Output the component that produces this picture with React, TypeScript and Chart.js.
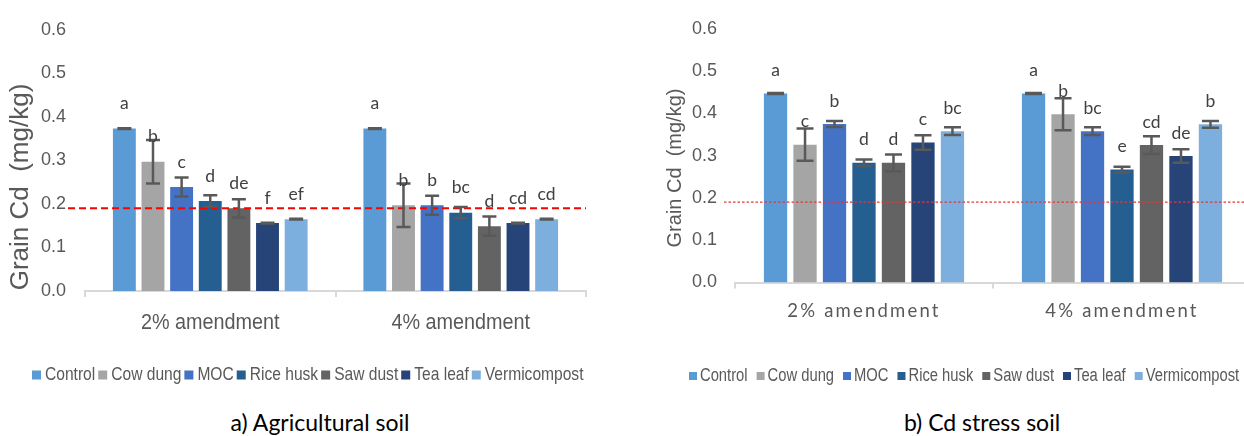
import React, { useEffect, useRef } from "react";
import { Chart, registerables } from "chart.js";

Chart.register(...registerables);

// Categories and treatments
const amendmentLevels = ["2% amendment", "4% amendment"];
const treatments = ["Control", "Cow dung", "MOC", "Rice husk", "Saw dust", "Tea leaf", "Vermicompost"];
const treatmentColors = ["#5B9BD5", "#A5A5A5", "#4472C4", "#255E91", "#636363", "#264478", "#7CAFDD"];

// a) Agricultural soil — grain Cd (mg/kg), error and significance letters
const agri2Mean = [0.373, 0.297, 0.239, 0.207, 0.19, 0.156, 0.165];
const agri2Err = [0.001, 0.05, 0.022, 0.013, 0.021, 0.001, 0.001];
const agri2Letters = ["a", "b", "c", "d", "de", "f", "ef"];
const agri4Mean = [0.373, 0.197, 0.197, 0.18, 0.149, 0.156, 0.165];
const agri4Err = [0.001, 0.05, 0.022, 0.013, 0.022, 0.001, 0.001];
const agri4Letters = ["a", "b", "b", "bc", "d", "cd", "cd"];

// b) Cd stress soil
const stress2Mean = [0.447, 0.326, 0.375, 0.283, 0.283, 0.331, 0.358];
const stress2Err = [0.001, 0.038, 0.007, 0.008, 0.02, 0.017, 0.009];
const stress2Letters = ["a", "c", "b", "d", "d", "c", "bc"];
const stress4Mean = [0.447, 0.398, 0.358, 0.267, 0.325, 0.299, 0.374];
const stress4Err = [0.001, 0.038, 0.009, 0.007, 0.021, 0.016, 0.008];
const stress4Letters = ["a", "b", "bc", "e", "cd", "de", "b"];

// Permissible grain Cd limit and y axis range
const cdLimit = 0.19;
const yMin = 0;
const yMax = 0.6;
const yStep = 0.1;
const yTitleText = "Grain Cd  (mg/kg)";

type PanelStyle = {
  width: number;
  height: number;
  padding: { top: number; right: number; bottom: number; left: number };
  yAxisWidth: number;
  xAxisHeight: number;
  yTickPadding: number;
  barPercentage: number;
  limit: { color: string; width: number; dash: number[]; lead: number };
  err: { color: string; width: number; cap: number };
  letters: { font: string; color: string; gap: number };
  cats: { font: string; color: string; scaleX: number; spacing: number; offset: number };
  yTitle: { font: string; color: string; x: number; y: number };
  legend: { font: string; color: string; scaleX: number; x: number; y: number; box: number; textGap: number; itemGap: number };
};

type PanelData = {
  means: number[][];
  errs: number[][];
  letters: string[][];
};

function drawScaledText(ctx: CanvasRenderingContext2D, text: string, x: number, y: number, sx: number) {
  ctx.save();
  ctx.translate(x, y);
  ctx.scale(sx, 1);
  ctx.fillText(text, 0, 0);
  ctx.restore();
}

function panelPlugin(s: PanelStyle, d: PanelData) {
  return {
    id: "panelDecor",
    afterDraw(chart: any) {
      const ctx: CanvasRenderingContext2D = chart.ctx;
      const area = chart.chartArea;
      const xs = chart.scales.x;
      const ys = chart.scales.y;

      // limit line
      ctx.save();
      ctx.strokeStyle = s.limit.color;
      ctx.lineWidth = s.limit.width;
      ctx.setLineDash(s.limit.dash);
      const ly = ys.getPixelForValue(cdLimit);
      ctx.beginPath();
      ctx.moveTo(area.left - s.limit.lead, ly);
      ctx.lineTo(area.right, ly);
      ctx.stroke();
      ctx.restore();

      // error bars and letters
      chart.data.datasets.forEach((ds: any, i: number) => {
        const meta = chart.getDatasetMeta(i);
        meta.data.forEach((bar: any, j: number) => {
          const v = d.means[j][i];
          const e = d.errs[j][i];
          const yTop = ys.getPixelForValue(v + e);
          const yBot = ys.getPixelForValue(v - e);
          ctx.save();
          ctx.strokeStyle = s.err.color;
          ctx.lineWidth = s.err.width;
          ctx.beginPath();
          ctx.moveTo(bar.x, yTop);
          ctx.lineTo(bar.x, yBot);
          ctx.moveTo(bar.x - s.err.cap / 2, yTop);
          ctx.lineTo(bar.x + s.err.cap / 2, yTop);
          ctx.moveTo(bar.x - s.err.cap / 2, yBot);
          ctx.lineTo(bar.x + s.err.cap / 2, yBot);
          ctx.stroke();
          ctx.restore();

          ctx.save();
          ctx.font = s.letters.font;
          ctx.fillStyle = s.letters.color;
          ctx.textAlign = "center";
          ctx.textBaseline = "middle";
          ctx.fillText(d.letters[j][i], bar.x, ys.getPixelForValue(v) - s.letters.gap);
          ctx.restore();
        });
      });

      // category labels
      ctx.save();
      ctx.font = s.cats.font;
      ctx.fillStyle = s.cats.color;
      ctx.textAlign = "center";
      ctx.textBaseline = "middle";
      (ctx as any).letterSpacing = `${s.cats.spacing}px`;
      chart.data.labels.forEach((lab: string, j: number) => {
        drawScaledText(ctx, lab, xs.getPixelForValue(j), area.bottom + s.cats.offset, s.cats.scaleX);
      });
      (ctx as any).letterSpacing = "0px";
      ctx.restore();

      // y axis title
      ctx.save();
      ctx.font = s.yTitle.font;
      ctx.fillStyle = s.yTitle.color;
      ctx.textAlign = "center";
      ctx.textBaseline = "middle";
      ctx.translate(s.yTitle.x, s.yTitle.y);
      ctx.rotate(-Math.PI / 2);
      ctx.fillText(yTitleText, 0, 0);
      ctx.restore();

      // legend
      ctx.save();
      ctx.font = s.legend.font;
      ctx.textAlign = "left";
      ctx.textBaseline = "middle";
      let x = s.legend.x;
      chart.data.datasets.forEach((ds: any) => {
        ctx.fillStyle = ds.backgroundColor;
        ctx.fillRect(x, s.legend.y - s.legend.box / 2, s.legend.box, s.legend.box);
        x += s.legend.box + s.legend.textGap;
        ctx.fillStyle = s.legend.color;
        drawScaledText(ctx, ds.label, x, s.legend.y, s.legend.scaleX);
        x += ctx.measureText(ds.label).width * s.legend.scaleX + s.legend.itemGap;
      });
      ctx.restore();
    },
  };
}

function Panel({ s, d }: { s: PanelStyle; d: PanelData }) {
  const ref = useRef<HTMLCanvasElement>(null);
  useEffect(() => {
    if (!ref.current) return;
    const datasets = treatments.map((name, i) => ({
      label: name,
      data: d.means.map((row) => row[i]),
      backgroundColor: treatmentColors[i],
      borderWidth: 0,
      categoryPercentage: 0.8,
      barPercentage: s.barPercentage,
    }));
    const chart = new Chart(ref.current, {
      type: "bar",
      data: { labels: amendmentLevels, datasets },
      options: {
        animation: false,
        responsive: false,
        devicePixelRatio: 1,
        layout: { padding: s.padding },
        plugins: {
          legend: { display: false },
          tooltip: { enabled: false },
          title: { display: false },
        },
        scales: {
          x: {
            grid: {
              display: true,
              drawOnChartArea: false,
              drawTicks: true,
              tickLength: 6,
              color: "#D9D9D9",
              lineWidth: 2,
              offset: true,
            },
            border: { display: true, color: "#D9D9D9", width: 2 },
            ticks: { display: false },
            afterFit: (sc: any) => {
              sc.height = s.xAxisHeight;
            },
          },
          y: {
            min: yMin,
            max: yMax,
            ticks: {
              stepSize: yStep,
              padding: s.yTickPadding,
              color: "#595959",
              font: { family: '"Liberation Sans", Arial, sans-serif', size: 18 },
              callback: (v: any) => Number(v).toFixed(1),
            },
            grid: { display: false, drawTicks: false },
            border: { display: false },
            afterFit: (sc: any) => {
              sc.width = s.yAxisWidth;
            },
          },
        },
      } as any,
      plugins: [panelPlugin(s, d)],
    });
    return () => chart.destroy();
  }, [s, d]);
  return <canvas ref={ref} width={s.width} height={s.height} style={{ width: s.width, height: s.height, display: "block" }} />;
}

const agriStyle: PanelStyle = {
  width: 615,
  height: 400,
  padding: { top: 27, right: 29, bottom: 0, left: 0 },
  yAxisWidth: 85,
  xAxisHeight: 109,
  yTickPadding: 19,
  barPercentage: 0.8,
  limit: { color: "#FF0000", width: 2, dash: [7, 4], lead: 17 },
  err: { color: "#595959", width: 2.5, cap: 14 },
  letters: { font: '17.5px Lato, "Open Sans", sans-serif', color: "#404040", gap: 25 },
  cats: { font: '22px "Liberation Sans", Arial, sans-serif', color: "#595959", scaleX: 0.9, spacing: 0, offset: 32 },
  yTitle: { font: '26px "Liberation Sans", Arial, sans-serif', color: "#595959", x: 21, y: 187 },
  legend: { font: '19px "Liberation Sans", Arial, sans-serif', color: "#595959", scaleX: 0.82, x: 32, y: 375, box: 9, textGap: 4, itemGap: 3 },
};

const stressStyle: PanelStyle = {
  width: 700,
  height: 400,
  padding: { top: 17, right: 69, bottom: 0, left: 0 },
  yAxisWidth: 115,
  xAxisHeight: 117.5,
  yTickPadding: 18,
  barPercentage: 0.79,
  limit: { color: "#E0383C", width: 1.3, dash: [2.5, 2], lead: 11 },
  err: { color: "#595959", width: 2.5, cap: 17 },
  letters: { font: '17.5px Lato, "Open Sans", sans-serif', color: "#404040", gap: 23 },
  cats: { font: '18.5px Lato, "Open Sans", sans-serif', color: "#595959", scaleX: 1, spacing: 2.2, offset: 28.5 },
  yTitle: { font: '20px "Liberation Sans", Arial, sans-serif', color: "#595959", x: 55, y: 168 },
  legend: { font: '18px "Liberation Sans", Arial, sans-serif', color: "#595959", scaleX: 0.82, x: 69, y: 376, box: 8, textGap: 3, itemGap: 9 },
};

const agriData: PanelData = {
  means: [agri2Mean, agri4Mean],
  errs: [agri2Err, agri4Err],
  letters: [agri2Letters, agri4Letters],
};

const stressData: PanelData = {
  means: [stress2Mean, stress4Mean],
  errs: [stress2Err, stress4Err],
  letters: [stress2Letters, stress4Letters],
};

const captionStyle: React.CSSProperties = {
  position: "absolute",
  top: 408,
  height: 30,
  lineHeight: "30px",
  width: 400,
  textAlign: "center",
  font: '23px Lato, "Open Sans", sans-serif',
  color: "#000",
};

export default function App() {
  return (
    <div style={{ position: "fixed", left: 0, top: 0, width: 1244, height: 436, overflow: "hidden", background: "#fff" }}>
      <div style={{ position: "absolute", left: 0, top: 0 }}>
        <Panel s={agriStyle} d={agriData} />
      </div>
      <div style={{ position: "absolute", left: 620, top: 0 }}>
        <Panel s={stressStyle} d={stressData} />
      </div>
      <div style={{ ...captionStyle, left: 320 - 200 }}>a) Agricultural soil</div>
      <div style={{ ...captionStyle, left: 982 - 200 }}>b) Cd stress soil</div>
    </div>
  );
}
